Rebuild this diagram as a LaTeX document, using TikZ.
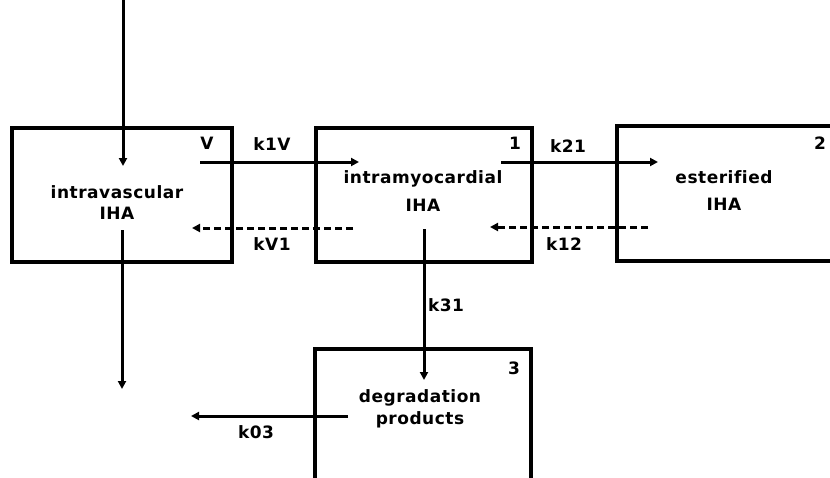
\documentclass[tikz,border=0pt]{standalone}
\usepackage{fontspec}
\newfontfamily\labelfont{DejaVu Sans}[LetterSpace=3, Ligatures=NoCommon, BoldFont={DejaVu Sans Bold}]
\usetikzlibrary{arrows.meta}

\tikzset{
    comp/.style={draw, line width=3.2pt, inner sep=0pt},
    txt/.style={font=\labelfont\bfseries\fontsize{17}{21}\selectfont, align=center},
    flow/.style={line width=3pt, -{Triangle[length=8pt,width=8pt]}},
    back/.style={flow, dash pattern=on 7pt off 4pt}
}

\begin{document}
\begin{tikzpicture}[x=1pt, y=-1pt]
    \useasboundingbox (0,0) rectangle (830,477);
    \clip (0,0) rectangle (830,477);

    % compartments
    \node[comp, minimum width=220pt, minimum height=134pt] (boxV) at (122,195) {};
    \node[comp, minimum width=216pt, minimum height=134pt] (box1) at (424,195) {};
    \node[comp, minimum width=260pt, minimum height=135pt] (box2) at (747,193.5) {};
    \node[comp, minimum width=216pt, minimum height=200pt] (box3) at (423,449) {};

    \node[txt] (tV) at (117,203) {intravascular\\IHA};
    \node[txt] (t1) at (423,191) {intramyocardial\\[7pt]IHA};
    \node[txt] (t2) at (724,190.5) {esterified\\[6pt]IHA};
    \node[txt] (t3) at (420,409) {degradation\\[1pt]products};

    \node[txt] (nV) at (207,143) {V};
    \node[txt] (n1) at (515,143) {1};
    \node[txt] (n2) at (820,143) {2};
    \node[txt] (n3) at (514,368) {3};

    % rate constants
    \node[txt] (k1V) at (272,144) {k1V};
    \node[txt] (kV1) at (272,244) {kV1};
    \node[txt] (k21) at (568,146) {k21};
    \node[txt] (k12) at (564,244) {k12};
    \node[txt] (k31) at (446,305) {k31};
    \node[txt] (k03) at (256,432) {k03};

    \coordinate (inTop) at (123,0);
    \coordinate (inV) at (123,166);
    \coordinate (outV) at (122,230);
    \coordinate (outEnd) at (122,389);
    \coordinate (fromV) at (200,162);
    \coordinate (to1) at (359,162);
    \coordinate (from1b) at (353,228);
    \coordinate (toVb) at (192,228);
    \coordinate (from1) at (501,162);
    \coordinate (to2) at (658,162);
    \coordinate (from2b) at (648,227);
    \coordinate (to1b) at (490,227);
    \coordinate (from1d) at (424,229);
    \coordinate (to3) at (424,380);
    \coordinate (from3) at (348,416);
    \coordinate (out3) at (191,416);

    \draw[flow] (inTop) -- (inV);
    \draw[flow] (outV) -- (outEnd);
    \draw[flow] (fromV) -- (to1);
    \draw[back] (from1b) -- (toVb);
    \draw[flow] (from1) -- (to2);
    \draw[back] (from2b) -- (to1b);
    \draw[flow] (from1d) -- (to3);
    \draw[flow] (from3) -- (out3);

\end{tikzpicture}
\end{document}
